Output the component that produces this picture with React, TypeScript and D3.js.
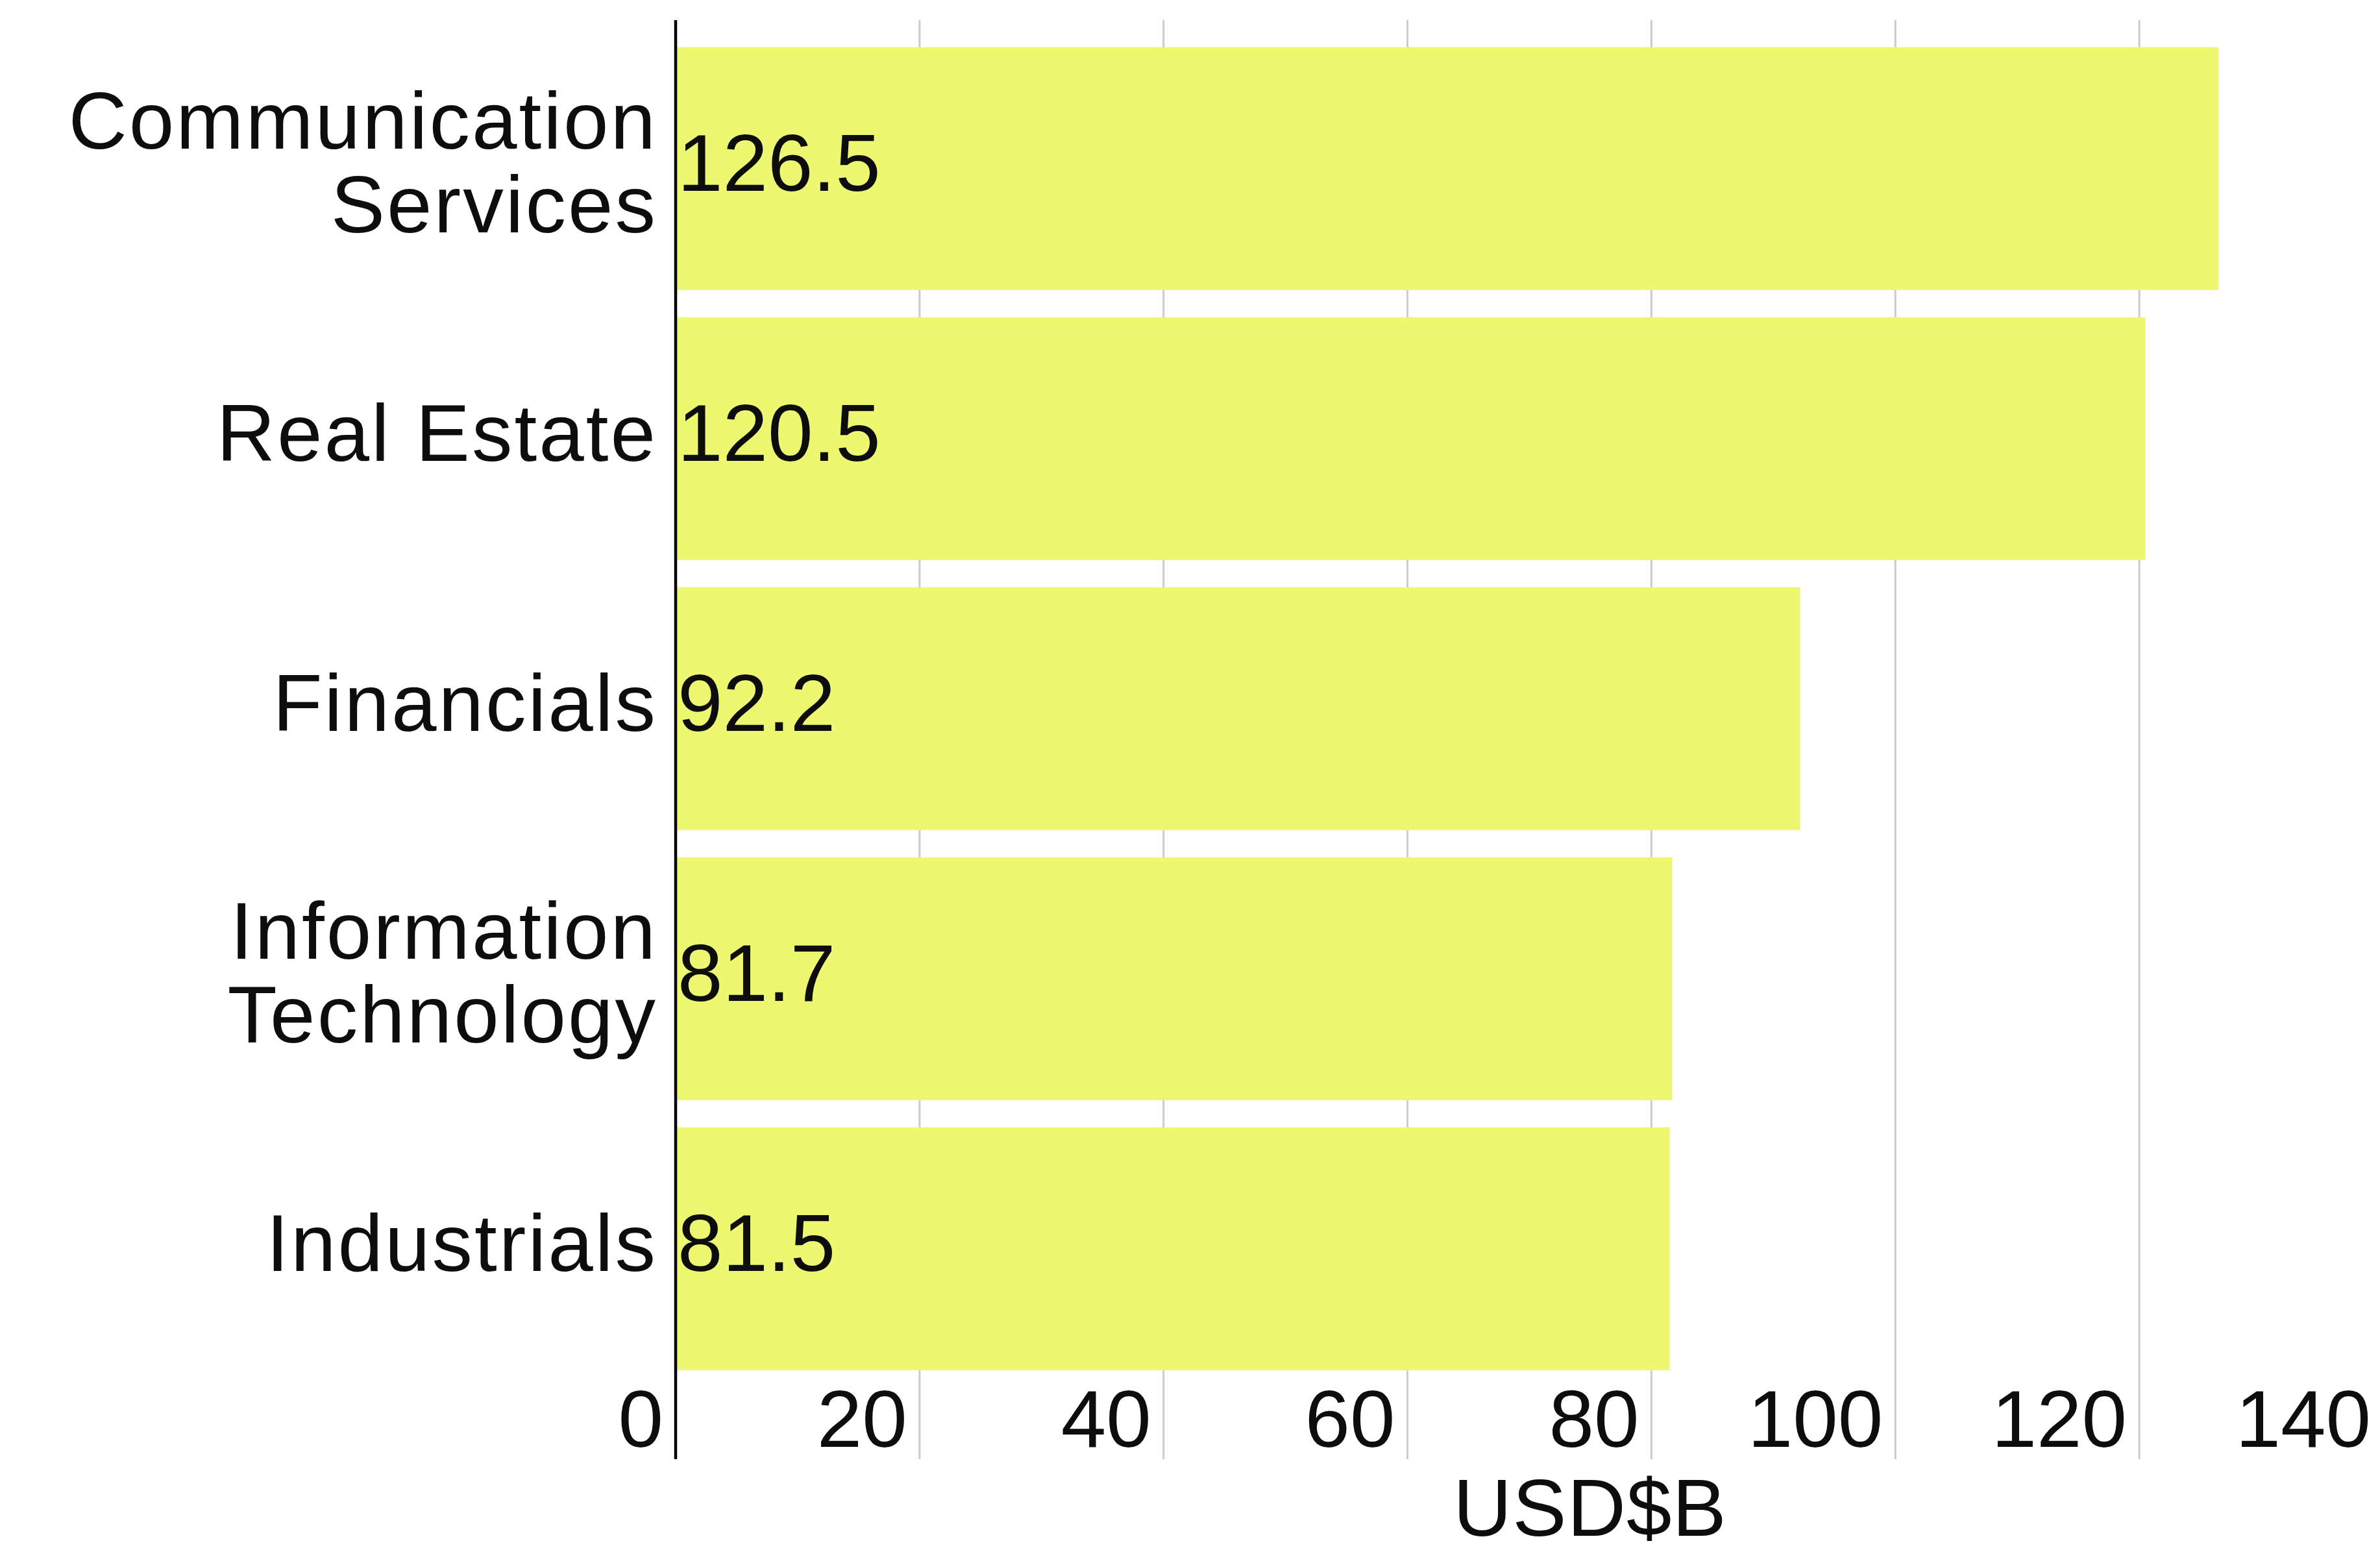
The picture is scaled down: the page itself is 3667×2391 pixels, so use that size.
import React from "react";
import * as d3 from "d3";

const categories = [
  "Communication Services",
  "Real Estate",
  "Financials",
  "Information Technology",
  "Industrials",
];
const categoryLines = [
  ["Communication", "Services"],
  ["Real Estate"],
  ["Financials"],
  ["Information", "Technology"],
  ["Industrials"],
];
const values = [126.5, 120.5, 92.2, 81.7, 81.5];
const xTicks = [0, 20, 40, 60, 80, 100, 120, 140];
const axisTitle = "USD$B";

const W = 3667;
const H = 2391;
const FONT = "'Liberation Sans', Arial, sans-serif";
const FS = 125;
const TEXT = "#0d0d0d";
const BAR = "#edf76f";

export default function App() {
  const x = d3.scaleLinear().domain([0, 140]).range([1041, 3672]);
  const y = d3
    .scaleBand<string>()
    .domain(categories)
    .range([31, 2152.6])
    .paddingInner(0.1)
    .paddingOuter(0.1);
  const gridTop = 31;
  const gridBottom = 2248;
  const bw = y.bandwidth();
  const lineH = 129;

  return (
    <svg
      width={W}
      height={H}
      style={{ position: "absolute", left: 0, top: 0, background: "#fff" }}
      fontFamily={FONT}
    >
      <rect x={0} y={0} width={W} height={H} fill="#fff" />
      {xTicks
        .filter((t) => t !== 0)
        .map((t) => (
          <line
            key={"g" + t}
            x1={x(t)}
            x2={x(t)}
            y1={gridTop}
            y2={gridBottom}
            stroke="#cccccc"
            strokeWidth={3}
          />
        ))}
      {categories.map((c, i) => (
        <rect
          key={"b" + c}
          x={x(0)}
          y={y(c)}
          width={x(values[i]) - x(0)}
          height={bw}
          fill={BAR}
        />
      ))}
      <line
        x1={x(0)}
        x2={x(0)}
        y1={gridTop}
        y2={gridBottom}
        stroke="#000"
        strokeWidth={4.5}
      />
      {categories.map((c, i) => {
        const base = (y(c) as number) + bw / 2 + 34;
        return (
          <text
            key={"v" + c}
            x={x(0) + 3}
            y={base}
            fontSize={FS}
            fill={TEXT}
            textAnchor="start"
          >
            {values[i].toFixed(1)}
          </text>
        );
      })}
      {categories.map((c, i) => {
        const base = (y(c) as number) + bw / 2 + 34;
        const lines = categoryLines[i];
        const off = ((lines.length - 1) * lineH) / 2;
        return (
          <text
            key={"c" + c}
            x={1013}
            fontSize={FS}
            fill={TEXT}
            textAnchor="end"
            letterSpacing={3}
          >
            {lines.map((l, j) => (
              <tspan key={j} x={1013} y={base - off + j * lineH}>
                {l}
              </tspan>
            ))}
          </text>
        );
      })}
      {xTicks.map((t) => (
        <text
          key={"t" + t}
          x={x(t) - 19}
          y={2229}
          fontSize={FS}
          fill={TEXT}
          textAnchor="end"
        >
          {t}
        </text>
      ))}
      <text
        x={2450}
        y={2366}
        fontSize={FS}
        fill={TEXT}
        textAnchor="middle"
        letterSpacing={1}
      >
        {axisTitle}
      </text>
    </svg>
  );
}
